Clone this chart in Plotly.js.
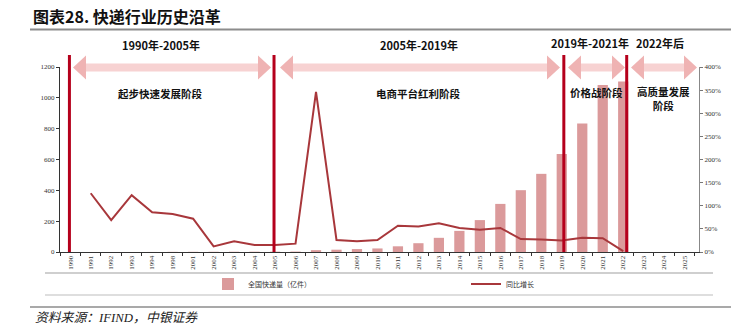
<!DOCTYPE html>
<html>
<head>
<meta charset="utf-8">
<script src="https://cdn.plot.ly/plotly-3.0.1.min.js"></script>
<style>html,body{margin:0;padding:0;background:#fff;}#chart{width:740px;height:332px;}</style>
</head>
<body>
<div id="chart"></div>
<script>
// ---- data ----
const years = ['1990','1991','1992','1993','1994','1998','2001','2002','2003','2004','2005','2006','2007','2008','2009','2010','2011','2012','2013','2014','2015','2016','2017','2018','2019','2020','2021','2022','2023','2024','2025'];
const volume = [0.02,0.03,0.06,0.13,0.24,1.0,1.2,1.4,1.7,2.0,2.3,2.7,12,15,19,23,37,57,92,137,207,312,401,507,636,834,1083,1106,null,null,null];
const growth = [null,127,69,123,86,82,72,12,23,15,15,18,346,26,23,26,57,55,62,52,48,52,28,27,25,31,30,2,null,null,null];
const stageLines = ['1990','2005','2019','2022'];
const periodLabels = ['1990年-2005年','2005年-2019年','2019年-2021年','2022年后'];
const stageLabels = ['起步快速发展阶段','电商平台红利阶段','价格战阶段','高质量发展<br>阶段'];

// ---- geometry helpers (pixel -> paper) ----
const L = 60, R = 699, T = 67, B = 252;
const W = R - L, H = B - T;
const px = X => (X - L) / W;
const py = Y => (B - Y) / H;
const P = (X, Y) => px(X) + ',' + py(Y);

const shapes = [];
// arrows
function arrow(xl, xr) {
  const yc = 67.5, hl = 13, hh = 12, sh = 4;
  shapes.push({type:'path', xref:'paper', yref:'paper', layer:'above', line:{width:0}, fillcolor:'#f7d2d2',
    path:`M${P(xl+hl,yc-sh)} L${P(xr-hl,yc-sh)} L${P(xr-hl,yc+sh)} L${P(xl+hl,yc+sh)} Z`});
  shapes.push({type:'path', xref:'paper', yref:'paper', layer:'above', line:{width:0}, fillcolor:'#efb3b3',
    path:`M${P(xl,yc)} L${P(xl+hl,yc-hh)} L${P(xl+hl,yc+hh)} Z`});
  shapes.push({type:'path', xref:'paper', yref:'paper', layer:'above', line:{width:0}, fillcolor:'#efb3b3',
    path:`M${P(xr,yc)} L${P(xr-hl,yc-hh)} L${P(xr-hl,yc+hh)} Z`});
}
arrow(73, 271);
arrow(280, 560);
arrow(568, 625);
arrow(631, 697);

// stage vertical lines (at the category positions of the stage boundary years)
const lineNudge = [-0.04, -0.05, 0.1, 0.17];
stageLines.forEach((y, k) => {
  const idx = years.indexOf(y) + lineNudge[k];
  shapes.push({type:'line', xref:'x', yref:'paper', x0:idx, x1:idx, y0:0, y1:py(55),
    line:{color:'#b5001c', width:3}, layer:'above'});
});

// decorative rules
shapes.push({type:'line', xref:'paper', yref:'paper', x0:px(30), x1:px(731), y0:py(29.5), y1:py(29.5), line:{color:'#8c8c8c', width:2}});
shapes.push({type:'line', xref:'paper', yref:'paper', x0:px(45), x1:px(713), y0:py(273), y1:py(273), line:{color:'#a0a0a0', width:1.2}});
shapes.push({type:'line', xref:'paper', yref:'paper', x0:px(45), x1:px(713), y0:py(295), y1:py(295), line:{color:'#bdbdbd', width:1.2}});
shapes.push({type:'line', xref:'paper', yref:'paper', x0:px(30), x1:px(731), y0:py(307), y1:py(307), line:{color:'#8c8c8c', width:1.5}});

const cjk = '"Noto Sans CJK SC", "Noto Sans", sans-serif';
const periodFont = {family: cjk, size: 11, color: '#111', weight: 'bold'};
const stageFont = {family: cjk, size: 10.5, color: '#111', weight: 'bold'};
const annotations = [];
const periodPos = [[161,45],[419,45],[590,43],[660,43]];
const stagePos = [[160,93],[418,93],[596,92],[663,98]];
periodLabels.forEach((t,i) => annotations.push({text:t, xref:'paper', yref:'paper', x:px(periodPos[i][0]), y:py(periodPos[i][1]),
  xanchor:'center', yanchor:'middle', showarrow:false, font:periodFont}));
stageLabels.forEach((t,i) => annotations.push({text:t, xref:'paper', yref:'paper', x:px(stagePos[i][0]), y:py(stagePos[i][1]),
  xanchor:'center', yanchor:'middle', showarrow:false, font:stageFont, align:'center'}));
annotations.push({text:'资料来源：IFIND，中银证券', xref:'paper', yref:'paper', x:px(33), y:py(318), xanchor:'left', yanchor:'middle',
  showarrow:false, font:{family: '"Liberation Serif", ' + cjk, size: 12.8, color:'#222', style:'italic'}});

const tickFont = {family: '"Liberation Serif", "DejaVu Serif", serif', size: 7, color: '#333'};
const legendFont = {family: cjk, size: 7, color: '#333'};

const traces = [
  {type:'bar', x: years, y: volume, name:'全国快递量（亿件）', marker:{color:'#db9a9b'}, yaxis:'y', legend:'legend'},
  {type:'scatter', mode:'lines', x: years, y: growth, name:'同比增长', line:{color:'#a8373b', width:2}, yaxis:'y2', connectgaps:false, legend:'legend2'}
];

const layout = {
  width: 740, height: 332,
  margin: {l: L, r: 740 - R, t: T, b: 332 - B},
  paper_bgcolor: '#fff', plot_bgcolor: '#fff',
  title: {text:'图表28. 快递行业历史沿革', x: 33/740, xanchor:'left', xref:'container', y: 1 - 17/332, yanchor:'middle', yref:'container',
    font:{family: cjk, size: 16, color:'#111', weight:'bold'}},
  bargap: 0.5,
  showlegend: true,
  legend: {orientation:'h', x: px(208), y: py(284), xanchor:'left', yanchor:'middle', font: legendFont, itemwidth: 30, bgcolor:'rgba(0,0,0,0)'},
  legend2: {orientation:'h', x: px(466), y: py(284), xanchor:'left', yanchor:'middle', font: legendFont, itemwidth: 30, bgcolor:'rgba(0,0,0,0)'},
  xaxis: {type:'category', range:[-0.5, 30.7], tickangle:-90, tickfont: tickFont, ticks:'outside', ticklen:3, tickcolor:'#333',
    tickson:'boundaries', showline:true, linecolor:'#333', linewidth:1, showgrid:false, zeroline:false},
  yaxis: {range:[0,1200], dtick:200, tickfont: tickFont, ticks:'outside', ticklen:3, tickcolor:'#333', showline:true, linecolor:'#333',
    linewidth:1, showgrid:false, zeroline:false},
  yaxis2: {range:[0,400], dtick:50, ticksuffix:'%', overlaying:'y', side:'right', tickfont: tickFont, ticks:'outside', ticklen:3,
    tickcolor:'#777', showline:true, linecolor:'#888', linewidth:1, showgrid:false, zeroline:false},
  shapes: shapes,
  annotations: annotations
};

Plotly.newPlot('chart', traces, layout, {displayModeBar:false, staticPlot:true});
</script>
</body>
</html>
